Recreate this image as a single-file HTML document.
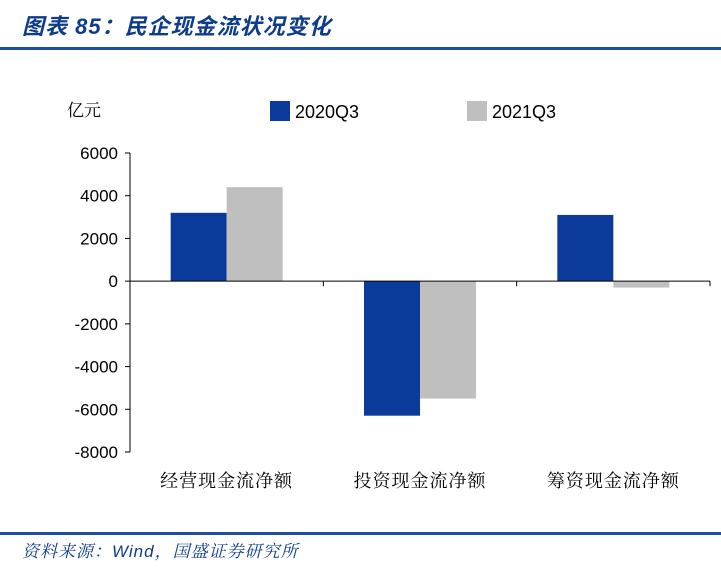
<!DOCTYPE html>
<html><head><meta charset="utf-8"><style>
body{margin:0;background:#fff;width:721px;height:570px;overflow:hidden;position:relative;font-family:"Liberation Sans","Noto Sans CJK SC",sans-serif}
.t{position:absolute;white-space:nowrap}
</style></head><body>
<div class="t" style="left:22px;top:9px;font-size:22px;font-weight:bold;font-style:italic;color:#0d3c8c;letter-spacing:1px">图表 85：民企现金流状况变化</div>
<div style="position:absolute;left:0;top:47px;width:721px;height:3px;background:#1f4e9c"></div>
<div style="position:absolute;left:0;top:532px;width:721px;height:3px;background:#1f4e9c"></div>
<div class="t" style="left:22px;top:537px;font-size:17px;font-style:italic;color:#0d3c8c;font-family:'Liberation Sans','Noto Serif CJK SC',serif;letter-spacing:1px">资料来源：Wind，国盛证券研究所</div>
<svg id="c" width="721" height="570" style="position:absolute;left:0;top:0"></svg>
<script>
const categories=["经营现金流净额","投资现金流净额","筹资现金流净额"];
const series2020=[3200,-6300,3100];
const series2021=[4400,-5500,-300];
const seriesNames=["2020Q3","2021Q3"];
const ticks=[6000,4000,2000,0,-2000,-4000,-6000,-8000];
const svg=document.getElementById('c');const NS='http://www.w3.org/2000/svg';
function el(t,a,p){const e=document.createElementNS(NS,t);for(const k in a)e.setAttribute(k,a[k]);(p||svg).appendChild(e);return e;}
const x0=130,x1=710,yTop=153,yBot=452,vMax=6000,vMin=-8000;
const y=v=>yTop+(vMax-v)/(vMax-vMin)*(yBot-yTop);
const cw=(x1-x0)/categories.length;
const bw=56;
const colors=["#0a3b9a","#bfbfbf"];
[series2020,series2021].forEach((s,si)=>{s.forEach((v,i)=>{
 const cx=x0+cw*(i+0.5);const bx=cx-bw+si*bw;
 const r=el('rect',{x:bx,y:Math.min(y(v),y(0)),width:bw,height:Math.abs(y(v)-y(0)),fill:colors[si]});
 
 
});});
const ax=el('line',{x1:x0,y1:yTop,x2:x0,y2:yBot,stroke:'#000','stroke-width':1});

const zx=el('line',{x1:x0,y1:y(0),x2:x1,y2:y(0),stroke:'#000','stroke-width':1});

ticks.forEach(t=>{
 el('line',{x1:x0-5,y1:y(t),x2:x0,y2:y(t),stroke:'#000'});
 const tx=el('text',{x:x0-12,y:y(t)+6,'text-anchor':'end','font-size':17,fill:'#000'});tx.textContent=t;
 
});
for(let i=0;i<=categories.length;i++){el('line',{x1:x0+cw*i,y1:y(0),x2:x0+cw*i,y2:y(0)+5,stroke:'#000'});}
categories.forEach((c,i)=>{
 const tx=el('text',{x:x0+cw*(i+0.5),y:487,'text-anchor':'middle','font-size':18,fill:'#000','letter-spacing':'1','font-family':'"Noto Serif CJK SC",serif'});tx.textContent=c;
 
});
const u=el('text',{x:67,y:116,'font-size':17,fill:'#000','font-family':'"Noto Serif CJK SC",serif'});u.textContent='亿元';

[[270,seriesNames[0]],[467,seriesNames[1]]].forEach((l,i)=>{
 const r=el('rect',{x:l[0],y:101,width:20,height:20,fill:colors[i]});
 
 const tx=el('text',{x:l[0]+25,y:118,'font-size':18,fill:'#000'});tx.textContent=l[1];
 
});
</script>
</body></html>
